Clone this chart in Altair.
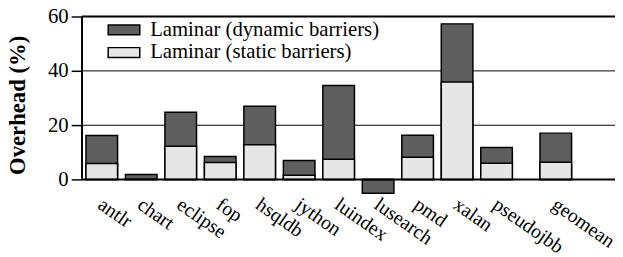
import altair as alt
import pandas as pd

categories = ["antlr", "chart", "eclipse", "fop", "hsqldb", "jython", "luindex",
              "lusearch", "pmd", "xalan", "pseudojbb", "geomean"]
dynamic = [16.2, 1.9, 24.8, 8.5, 27.0, 7.0, 34.6, -5.0, 16.3, 57.3, 11.8, 17.1]
static = [5.9, 0.0, 12.3, 6.3, 12.8, 1.6, 7.5, 0.0, 8.2, 35.9, 6.0, 6.4]
series = ["Laminar (dynamic barriers)", "Laminar (static barriers)"]
colors = ["#5f5f5f", "#e6e6e6"]
y_ticks = [0, 10, 20, 30, 40, 50, 60]
grid_light = [20, 40]
grid_heavy = [0, 60]

FONT = "Liberation Serif"

# band domain: half-step spacers between benchmarks, a wider gap before geomean
x_domain = []
for i, c in enumerate(categories[:-1]):
    x_domain.append(c)
    x_domain.append("_" + str(i))
x_domain.append("_x")
x_domain.append(categories[-1])
x_domain += ["_y", "_z"]

rows = []
for s, vals in zip(series, [dynamic, static]):
    for c, v in zip(categories, vals):
        rows.append({"bench": c, "value": v, "series": s})
df = pd.DataFrame(rows)

xscale = alt.Scale(domain=x_domain, paddingInner=0, paddingOuter=0.5)
yscale = alt.Scale(domain=[-5, 60], nice=False, zero=False)

bars = alt.Chart(df).mark_bar(
    stroke="black", strokeWidth=1.5, width=alt.RelativeBandSize(1.6)
).encode(
    x=alt.X("bench:N", scale=xscale, sort=x_domain, title=None,
            axis=alt.Axis(domain=False, ticks=False, labelAngle=35, labelAlign="left",
                          labelBaseline="top", labelPadding=1, labelOffset=4, labelFont=FONT,
                          labelFontSize=20, labelColor="black", labelOverlap=False,
                          labelExpr="slice(datum.label,0,1)=='_' ? '' : datum.label")),
    y=alt.Y("value:Q", stack=None, scale=yscale, title="Overhead (%)",
            axis=alt.Axis(values=y_ticks, labelExpr="datum.value % 20 == 0 ? datum.label : ''",
                          tickSize=11, tickColor="black", tickWidth=1.5, domain=False,
                          grid=False, labelPadding=3, labelFont=FONT, labelFontSize=21,
                          labelColor="black", titleFont=FONT, titleFontSize=23,
                          titleFontWeight="bold", titleColor="black", titlePadding=18)),
    color=alt.Color("series:N", scale=alt.Scale(domain=series, range=colors),
                    legend=alt.Legend(title=None, orient="none", legendX=32, legendY=3,
                                      symbolType="M-2,-0.625H2V0.625H-2Z", symbolSize=256,
                                      symbolStrokeColor="black", symbolStrokeWidth=1.5,
                                      symbolOpacity=1, labelFont=FONT, labelFontSize=21,
                                      labelColor="black", labelOffset=16, rowPadding=1,
                                      labelLimit=400)),
)

light = alt.Chart(pd.DataFrame({"v": grid_light})).mark_rule(
    color="black", strokeWidth=1).encode(y=alt.Y("v:Q", scale=yscale))
heavy = alt.Chart(pd.DataFrame({"v": grid_heavy})).mark_rule(
    color="black", strokeWidth=2).encode(y=alt.Y("v:Q", scale=yscale))
axis_line = alt.Chart(pd.DataFrame({"lo": [grid_heavy[0]], "hi": [grid_heavy[1]]})).mark_rule(
    color="black", strokeWidth=2).encode(x=alt.value(0), y=alt.Y("lo:Q", scale=yscale), y2="hi:Q")

chart = alt.layer(light, bars, heavy, axis_line).properties(
    width=540, height=179,
    autosize=alt.AutoSizeParams(type="none"),
    padding={"left": 75, "top": 7, "right": 0, "bottom": 63},
).configure_view(stroke=None)

chart.save("out.html", embed_options={"renderer": "svg", "actions": False})
